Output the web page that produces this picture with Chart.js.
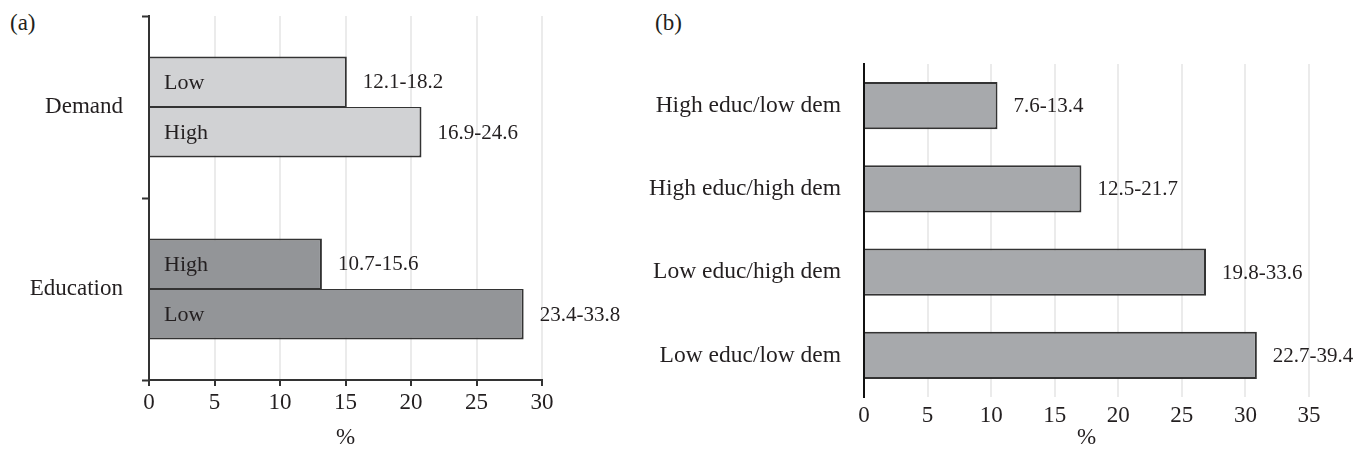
<!DOCTYPE html>
<html>
<head>
<meta charset="utf-8">
<script src="https://cdn.jsdelivr.net/npm/chart.js@4/dist/chart.umd.min.js"></script>
<style>
  body { margin: 0; background: #fff; }
  #wrap { position: relative; width: 1371px; height: 458px; overflow: hidden; }
  canvas { position: absolute; top: 0; }
  .panel-tag { position: absolute; top: 10px; font: 23px 'Liberation Serif', 'Times New Roman', serif; line-height: 26px; color: #231f20; }
</style>
</head>
<body>
<div id="wrap">
  <div class="panel-tag" style="left:10px">(a)</div>
  <div class="panel-tag" style="left:655px">(b)</div>
  <canvas id="chartA" width="640" height="458" style="left:0"></canvas>
  <canvas id="chartB" width="731" height="458" style="left:640px"></canvas>
</div>
<script>
// panel (a)
const factorCategories = ['Demand', 'Education'];
const upperBarNames = ['Low', 'High'];
const upperBarValues = [15.1, 13.2];
const upperBarRanges = ['12.1-18.2', '10.7-15.6'];
const lowerBarNames = ['High', 'Low'];
const lowerBarValues = [20.8, 28.6];
const lowerBarRanges = ['16.9-24.6', '23.4-33.8'];
const factorColors = ['#d1d2d4', '#939598'];
const ticksA = [0, 5, 10, 15, 20, 25, 30];

// panel (b)
const groupCategories = ['High educ/low dem', 'High educ/high dem', 'Low educ/high dem', 'Low educ/low dem'];
const groupValues = [10.5, 17.1, 26.9, 30.9];
const groupRanges = ['7.6-13.4', '12.5-21.7', '19.8-33.6', '22.7-39.4'];
const ticksB = [0, 5, 10, 15, 20, 25, 30, 35];

const SERIF = "'Liberation Serif', 'Times New Roman', serif";
const INK = '#231f20';
const GRID = '#ebebeb';
const EDGE = '#333333';

// writes the inner name and the range next to every bar
const barText = {
  id: 'barText',
  afterDatasetsDraw(chart) {
    const ctx = chart.ctx;
    ctx.save();
    ctx.fillStyle = INK;
    ctx.textBaseline = 'middle';
    ctx.textAlign = 'left';
    chart.data.datasets.forEach((ds, i) => {
      chart.getDatasetMeta(i).data.forEach((bar, j) => {
        if (ds.innerNames) {
          ctx.font = '22px ' + SERIF;
          ctx.fillText(ds.innerNames[j], bar.base + 14, bar.y + 1);
        }
        if (ds.ranges) {
          ctx.font = '21px ' + SERIF;
          ctx.fillText(ds.ranges[j], bar.x + 16, bar.y + 1);
        }
      });
    });
    ctx.restore();
  }
};

// fixed axis box, no extra room for first/last label
function fixWidth(w) {
  return function (scale) {
    scale.width = w;
    scale.paddingTop = 0;
    scale.paddingBottom = 0;
  };
}

new Chart(document.getElementById('chartA'), {
  type: 'bar',
  data: {
    labels: factorCategories,
    datasets: [
      {
        data: upperBarValues,
        innerNames: upperBarNames,
        ranges: upperBarRanges,
        backgroundColor: factorColors,
        borderColor: EDGE,
        borderWidth: { top: 2, right: 2, bottom: 1, left: 0 },
        borderSkipped: 'start'
      },
      {
        data: lowerBarValues,
        innerNames: lowerBarNames,
        ranges: lowerBarRanges,
        backgroundColor: factorColors,
        borderColor: EDGE,
        borderWidth: { top: 1, right: 2, bottom: 2, left: 0 },
        borderSkipped: 'start'
      }
    ]
  },
  options: {
    indexAxis: 'y',
    responsive: false,
    animation: false,
    barPercentage: 1,
    categoryPercentage: 0.555,
    layout: { padding: { left: 0, top: 16, right: 98, bottom: 0 } },
    plugins: { legend: { display: false }, tooltip: { enabled: false } },
    scales: {
      x: {
        min: 0, max: 30,
        afterBuildTicks(scale) { scale.ticks = ticksA.map(v => ({ value: v })); },
        afterFit(scale) { scale.height = 78; },
        grid: { color: GRID, lineWidth: 2, tickColor: EDGE, tickLength: 6, tickWidth: 2 },
        border: { display: true, color: EDGE, width: 2 },
        ticks: { color: INK, font: { family: SERIF, size: 23 }, padding: 3 },
        title: { display: true, text: '%', color: INK, font: { family: SERIF, size: 23 }, padding: { top: 0, bottom: 6 } }
      },
      y: {
        afterFit: fixWidth(149),
        grid: { drawOnChartArea: false, offset: true, tickColor: EDGE, tickLength: 7, tickWidth: 2 },
        border: { display: true, color: EDGE, width: 2 },
        ticks: { color: INK, font: { family: SERIF, size: 23 }, padding: 19 }
      }
    }
  },
  plugins: [barText]
});

new Chart(document.getElementById('chartB'), {
  type: 'bar',
  data: {
    labels: groupCategories,
    datasets: [
      {
        data: groupValues,
        ranges: groupRanges,
        backgroundColor: '#a7a9ac',
        borderColor: EDGE,
        borderWidth: 2,
        borderSkipped: 'start'
      }
    ]
  },
  options: {
    indexAxis: 'y',
    responsive: false,
    animation: false,
    barPercentage: 0.566,
    categoryPercentage: 1,
    layout: { padding: { left: 0, top: 64, right: 62, bottom: 0 } },
    plugins: { legend: { display: false }, tooltip: { enabled: false } },
    scales: {
      x: {
        min: 0, max: 35,
        afterBuildTicks(scale) { scale.ticks = ticksB.map(v => ({ value: v })); },
        afterFit(scale) { scale.height = 61; },
        grid: { color: GRID, lineWidth: 2, drawTicks: false },
        border: { display: false },
        ticks: { color: INK, font: { family: SERIF, size: 23 }, padding: 5 },
        title: { display: true, text: '%', color: INK, font: { family: SERIF, size: 23 }, padding: { top: 0, bottom: 6 } }
      },
      y: {
        afterFit: fixWidth(224),
        grid: { display: false },
        border: { display: true, color: '#111', width: 2 },
        ticks: { color: INK, font: { family: SERIF, size: 23.5 }, padding: 15 }
      }
    }
  },
  plugins: [barText]
});
</script>
</body>
</html>
